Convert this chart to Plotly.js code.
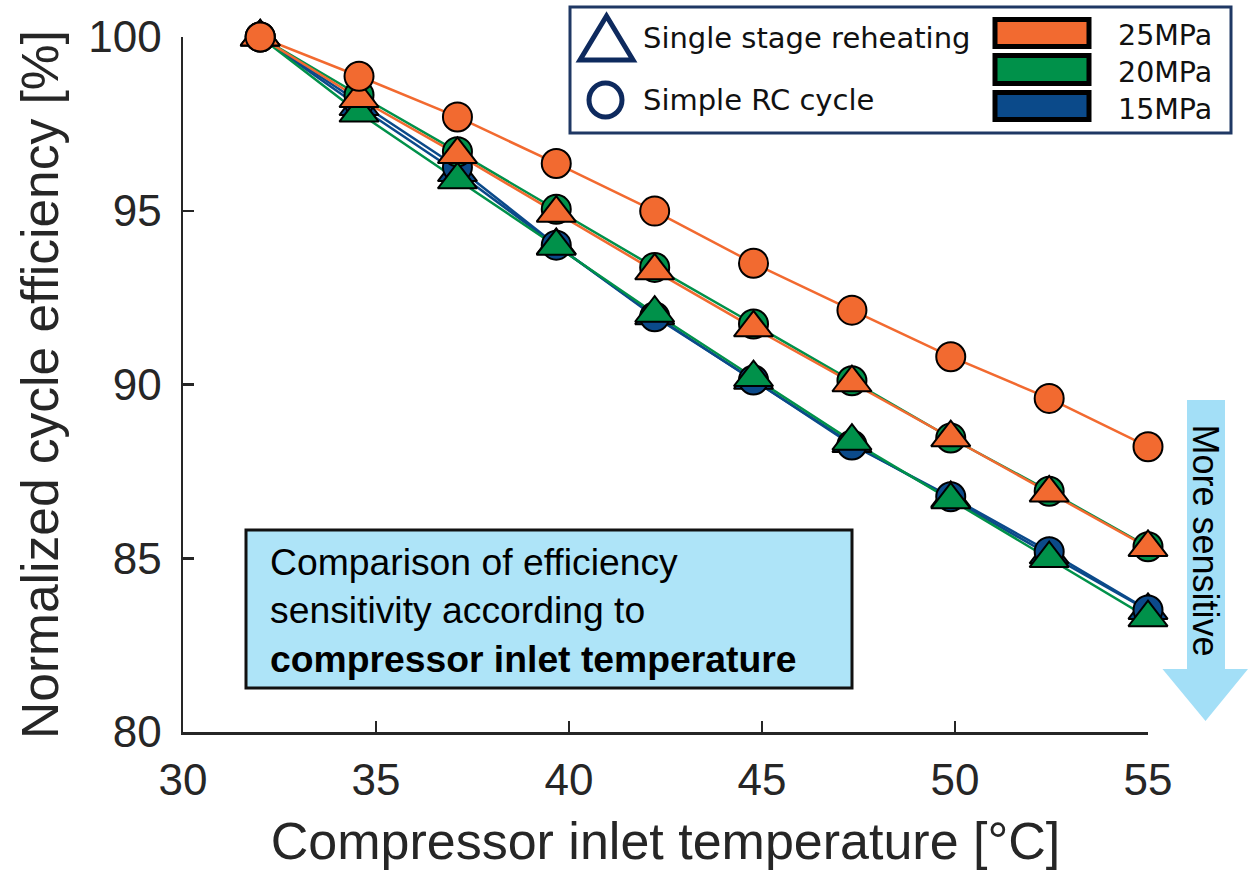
<!DOCTYPE html>
<html>
<head>
<meta charset="utf-8">
<script src="https://cdn.plot.ly/plotly-3.0.1.min.js"></script>
<style>html,body{margin:0;padding:0;background:#fff;}#chart{width:1248px;height:872px;}</style>
</head>
<body>
<div id="chart"></div>
<script>
// ---- data ----
const temps = [32, 34.56, 37.11, 39.67, 42.22, 44.78, 47.33, 49.89, 52.44, 55];
const rc25 = [100, 98.87, 97.70, 96.36, 94.99, 93.49, 92.14, 90.80, 89.60, 88.21];
const rh25 = [100, 98.23, 96.62, 94.93, 93.27, 91.63, 90.05, 88.47, 86.88, 85.31];
const rc20 = [100, 98.33, 96.70, 95.04, 93.37, 91.74, 90.11, 88.46, 86.93, 85.33];
const rh20 = [100, 97.81, 95.89, 93.98, 92.05, 90.20, 88.37, 86.68, 84.99, 83.29];
const rc15 = [100, 98.12, 96.25, 94.01, 91.95, 90.13, 88.26, 86.77, 85.19, 83.51];
const rh15 = [100, 98.00, 96.10, 94.00, 91.98, 90.12, 88.30, 86.72, 85.10, 83.50];
const pressureLabels = ['25MPa', '20MPa', '15MPa'];
const cycleLabels = ['Single stage reheating', 'Simple RC cycle'];
const xTitle = 'Compressor inlet temperature [°C]';
const yTitle = 'Normalized cycle efficiency [%]';
const noteLines = ['Comparison of efficiency', 'sensitivity according to', '<b>compressor inlet temperature</b>'];
const arrowLabel = 'More sensitive';

// ---- styles ----
const colors = {'25MPa': '#F26A30', '20MPa': '#00914A', '15MPa': '#0B4A8A'};
const navy = '#0E2A5E';
const textCol = '#262626';
const font = 'Arial, "Liberation Sans", sans-serif';
const legFont = '"DejaVu Sans", sans-serif';

const series = [
  {p: '15MPa', rc: rc15, rh: rh15},
  {p: '20MPa', rc: rc20, rh: rh20},
  {p: '25MPa', rc: rc25, rh: rh25}
];

const traces = [];
// lines underneath
series.forEach(s => {
  [s.rh, s.rc].forEach(arr => {
    traces.push({x: temps, y: arr, type: 'scatter', mode: 'lines', cliponaxis: false,
      line: {color: colors[s.p], width: 2.5}, hoverinfo: 'skip', showlegend: false});
  });
});
function markers(arr, p, sym, size) {
  return {x: temps, y: arr, type: 'scatter', mode: 'markers', cliponaxis: false, showlegend: false,
    name: p, marker: {symbol: sym, size: size, color: colors[p], line: {color: '#000', width: 2}}};
}
traces.push(markers(rh15, '15MPa', 'triangle-up', 34));
traces.push(markers(rc15, '15MPa', 'circle', 29));
traces.push(markers(rc20, '20MPa', 'circle', 29));
traces.push(markers(rh20, '20MPa', 'triangle-up', 34));
traces.push(markers(rh25, '25MPa', 'triangle-up', 34));
traces.push(markers(rc25, '25MPa', 'circle', 29));

// pixel -> paper helpers (plot area 183..1148 x, 37..732 y)
const XP = px => (px - 183) / 965;
const YP = py => (732 - py) / 695;

const shapes = [
  // note box
  {type: 'rect', xref: 'paper', yref: 'paper', x0: XP(246), x1: XP(852), y0: YP(688), y1: YP(530),
   fillcolor: '#AEE4F8', line: {color: '#111', width: 3}, layer: 'below'},
  // arrow
  {type: 'path', xref: 'paper', yref: 'paper', fillcolor: '#A3DFF7', line: {width: 0},
   path: `M${XP(1187)},${YP(400)} L${XP(1225)},${YP(400)} L${XP(1225)},${YP(669)} L${XP(1248)},${YP(669)} L${XP(1205.5)},${YP(721)} L${XP(1162.5)},${YP(669)} L${XP(1187)},${YP(669)} Z`},
  // legend box
  {type: 'rect', xref: 'paper', yref: 'paper', x0: XP(570), x1: XP(1231), y0: YP(133), y1: YP(7),
   fillcolor: '#fff', line: {color: '#1F3864', width: 3}},
  // legend triangle
  {type: 'path', xref: 'paper', yref: 'paper', line: {color: navy, width: 5},
   path: `M${XP(606.5)},${YP(16)} L${XP(633)},${YP(60)} L${XP(580)},${YP(60)} Z`},
  // legend circle
  {type: 'circle', xref: 'paper', yref: 'paper', x0: XP(589), x1: XP(622), y0: YP(117), y1: YP(83),
   line: {color: navy, width: 5}}
];
const swY = [[17, 49], [53, 86], [90, 122]];
pressureLabels.forEach((p, i) => {
  shapes.push({type: 'rect', xref: 'paper', yref: 'paper', x0: XP(995), x1: XP(1089),
    y0: YP(swY[i][1] - 2.5), y1: YP(swY[i][0] + 2.5), fillcolor: colors[p], line: {color: '#000', width: 5}});
});

const annotations = [
  {xref: 'paper', yref: 'paper', x: XP(268), y: YP(610), xanchor: 'left', yanchor: 'middle', align: 'left',
   showarrow: false, text: noteLines.join('<br>'), font: {family: font, size: 37.3, color: '#000'}},
  {xref: 'paper', yref: 'paper', x: XP(1205.5), y: YP(540), xanchor: 'center', yanchor: 'middle',
   showarrow: false, text: arrowLabel, textangle: 90, font: {family: font, size: 36, color: '#000'}},
  {xref: 'paper', yref: 'paper', x: XP(641), y: YP(38), xanchor: 'left', yanchor: 'middle', showarrow: false,
   text: cycleLabels[0], font: {family: legFont, size: 29, color: '#111'}},
  {xref: 'paper', yref: 'paper', x: XP(641), y: YP(100), xanchor: 'left', yanchor: 'middle', showarrow: false,
   text: cycleLabels[1], font: {family: legFont, size: 29, color: '#111'}},
  {xref: 'paper', yref: 'paper', x: XP(1214), y: YP(72), xanchor: 'right', yanchor: 'middle', align: 'right',
   showarrow: false, text: pressureLabels.join('<br>'), font: {family: legFont, size: 28.5, color: '#111'}}
];

const axisCommon = {
  showgrid: false, zeroline: false, showline: true, linecolor: textCol, linewidth: 2.5,
  ticks: 'inside', ticklen: 11, tickwidth: 2.5, tickcolor: textCol, dtick: 5,
  tickfont: {family: font, size: 44, color: textCol}, automargin: false, fixedrange: true
};

const layout = {
  width: 1248, height: 872,
  margin: {l: 183, r: 100, t: 37, b: 140},
  paper_bgcolor: '#fff', plot_bgcolor: '#fff',
  showlegend: false,
  xaxis: Object.assign({}, axisCommon, {range: [30, 55], tick0: 30, ticklabelstandoff: 8,
    title: {text: xTitle, font: {family: font, size: 52, color: textCol}, standoff: 20}}),
  yaxis: Object.assign({}, axisCommon, {range: [80, 100], tick0: 80, ticklabelstandoff: 10,
    title: {text: yTitle, font: {family: font, size: 51.5, color: textCol}, standoff: 14}}),
  shapes: shapes,
  annotations: annotations
};

Plotly.newPlot('chart', traces, layout, {displayModeBar: false, staticPlot: true});
</script>
</body>
</html>
